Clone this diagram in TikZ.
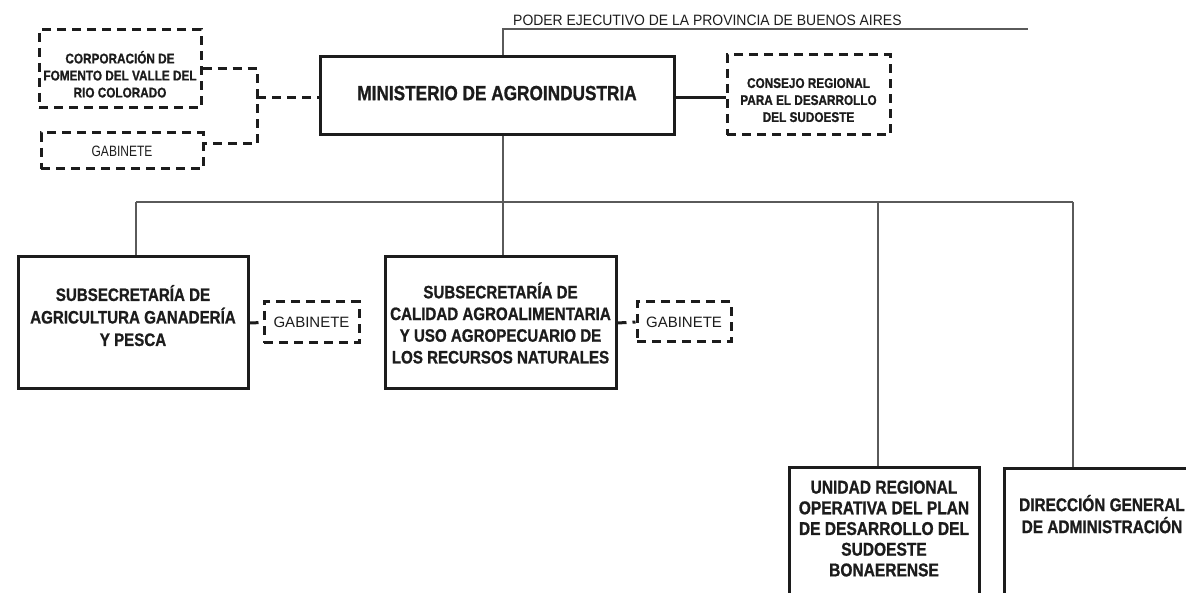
\documentclass[tikz,border=0pt]{standalone}
\usepackage{fontspec}
\setmainfont{Liberation Sans}
\newfontfamily\cb[FakeStretch=0.84,FakeBold=1.0]{Liberation Sans}
\newfontfamily\cn[FakeStretch=0.8]{Liberation Sans}
\newfontfamily\cp[FakeStretch=0.93]{Liberation Sans}
\usetikzlibrary{calc}
\newcommand{\dnsp}[1]{\rule[-#1]{0pt}{0pt}}
\newcommand{\upsp}[1]{\rule{0pt}{#1}}
\definecolor{ink}{HTML}{1C1C1C}
\definecolor{wirec}{HTML}{5A5A5A}
\begin{document}
\begin{tikzpicture}[x=1pt,y=-1pt,
  sbox/.style={draw=ink, line width=3pt, inner sep=0pt, align=center, text=ink},
  dbox/.style={sbox, dash pattern=on 9pt off 6pt},
  wire/.style={draw=wirec, line width=1.1pt},
  tline/.style={draw=ink, line width=3pt},
  dline/.style={tline, dash pattern=on 9pt off 6pt},
  bigb/.style={font=\cb\bfseries\fontsize{18}{22.5}\selectfont},
  smallb/.style={font=\cb\bfseries\fontsize{14}{17}\selectfont}
]
\useasboundingbox (0,0) rectangle (1186,593);

% top row
\node[sbox, minimum width=354pt, minimum height=78pt,
      font=\cb\bfseries\fontsize{20.5}{24}\selectfont] (main) at (497,96)
      {MINISTERIO DE AGROINDUSTRIA\dnsp{6pt}};
\node[dbox, smallb, minimum width=163pt, minimum height=80pt] (consejo) at (808.5,95)
      {\upsp{20pt}CONSEJO REGIONAL\\PARA EL DESARROLLO\\DEL SUDOESTE};
\node[dbox, smallb, minimum width=162pt, minimum height=78pt] (corp) at (120,69)
      {\upsp{23pt}CORPORACIÓN DE\\FOMENTO DEL VALLE DEL\\RIO COLORADO};
\node[dbox, minimum width=162pt, minimum height=36pt,
      font=\cn\fontsize{15}{18}\selectfont] (gab0) at (122,151) {GABINETE};

% second row
\node[sbox, bigb, minimum width=230pt, minimum height=132pt] (sub1) at (133,323)
      {SUBSECRETARÍA DE\\AGRICULTURA GANADERÍA\\Y PESCA\dnsp{15pt}};
\node[dbox, minimum width=95pt, minimum height=41pt,
      font=\fontsize{15}{18}\selectfont] (gab1) at (311.5,322.5) {GABINETE};
\node[sbox, font=\cb\bfseries\fontsize{18}{21.7}\selectfont,
      minimum width=231pt, minimum height=132pt] (sub2) at (500.5,323)
      {SUBSECRETARÍA DE\\CALIDAD AGROALIMENTARIA\\Y USO AGROPECUARIO DE\\LOS RECURSOS NATURALES};
\node[dbox, minimum width=94pt, minimum height=40pt,
      font=\fontsize{15}{18}\selectfont] (gab2) at (684,322) {GABINETE};

% third row
\node[sbox, font=\cb\bfseries\fontsize{18.5}{20.7}\selectfont,
      minimum width=190pt, minimum height=173pt] (unidad) at (884,553.5)
      {UNIDAD REGIONAL\\OPERATIVA DEL PLAN\\DE DESARROLLO DEL\\SUDOESTE\\BONAERENSE\dnsp{50pt}};
\node[sbox, font=\cb\bfseries\fontsize{18.3}{22}\selectfont,
      minimum width=196pt, minimum height=173pt] (direc) at (1102,554.5)
      {DIRECCIÓN GENERAL\\DE ADMINISTRACIÓN\dnsp{81pt}};

% poder ejecutivo
\coordinate (pt) at (503,29);
\coordinate (pe) at (1028,29);
\draw[wire] (pt |- main.north) -- (pt) -- (pe);
\node[anchor=base west, inner sep=0pt, text=ink,
      font=\cp\fontsize{15}{18}\selectfont] (poder) at (513,25.5)
      {PODER EJECUTIVO DE LA PROVINCIA DE BUENOS AIRES};

% left bracket
\coordinate (bk) at (257,98);
\draw[dline] (corp.east) -| (bk) |- ($(gab0.east)+(0,-7)$);
\draw[dline] (bk) -- (bk -| main.west);
% right link
\draw[tline] ($(main.east)+(0,2)$) -- ($(main.east -| consejo.west)+(0,2)$);

% bus
\coordinate (b1) at (136,202);
\coordinate (b4) at (878,202);
\coordinate (b5) at (1073,202);
\draw[wire] (b1) -- (b5);
\draw[wire] (pt |- main.south) -- (pt |- sub2.north);
\draw[wire] (b1) -- (b1 |- sub1.north);
\draw[wire] (b4) -- (b4 |- unidad.north);
\draw[wire] (b5) -- (b5 |- direc.north);

% gabinete links
\draw[dline] (sub1.east) -- (gab1.west);
\draw[dline] (sub2.east) -- (gab2.west);
\end{tikzpicture}
\end{document}
